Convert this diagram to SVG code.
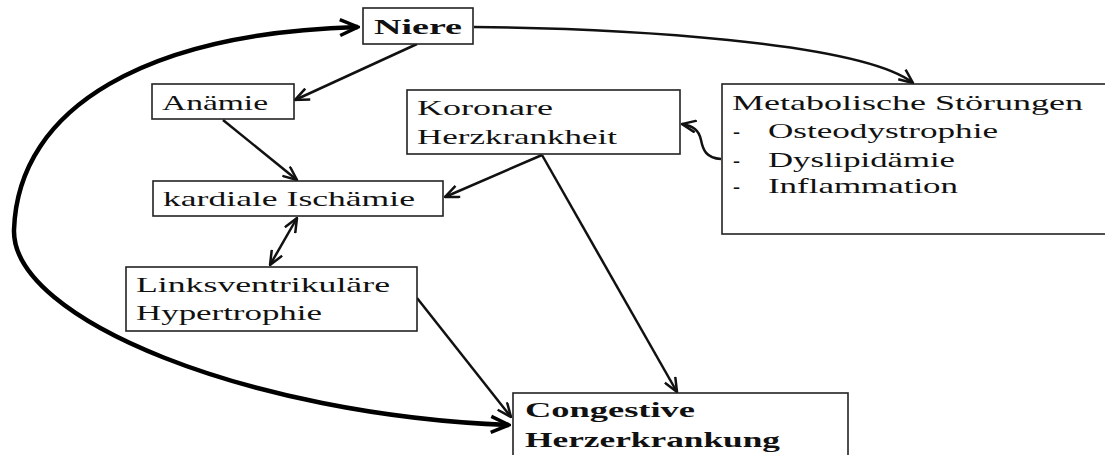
<svg xmlns="http://www.w3.org/2000/svg" width="1105" height="455" viewBox="0 0 1105 455">
<style>
.box{fill:#fff;stroke:#222;stroke-width:1.6}
text{font-family:'Liberation Serif','DejaVu Serif','Times New Roman',serif;fill:#111}
.t{font-size:21px}
.b{font-size:22px;font-weight:bold}
.c{fill:none;stroke:#111;stroke-width:2.5}
.big{fill:none;stroke:#000;stroke-width:4.5}
</style>
<defs>
<marker id="ah" viewBox="0 0 16 14" refX="15" refY="7" markerWidth="16" markerHeight="14" markerUnits="userSpaceOnUse" orient="auto-start-reverse">
<path d="M1,1 L15,7 L1,13" fill="none" stroke="#111" stroke-width="2.5"/>
</marker>
<marker id="bh" viewBox="0 0 22 20" refX="20" refY="10" markerWidth="22" markerHeight="20" markerUnits="userSpaceOnUse" orient="auto-start-reverse">
<path d="M2,2 L20,10 L2,18" fill="none" stroke="#000" stroke-width="3.5"/>
</marker>
</defs>
<g id="connectors">
<path class="big" d="M358,27 C150,33 18,105 14,230 C12,320 250,415 509,425" marker-start="url(#bh)" marker-end="url(#bh)"/>
<path class="c" d="M474,27 C620,28 860,42 913,83" marker-end="url(#ah)"/>
<line class="c" x1="417" y1="44" x2="295" y2="100" marker-end="url(#ah)"/>
<line class="c" x1="223" y1="120" x2="297" y2="180" marker-end="url(#ah)"/>
<line class="c" x1="542" y1="155" x2="445" y2="197" marker-end="url(#ah)"/>
<line class="c" x1="542" y1="155" x2="677" y2="392" marker-end="url(#ah)"/>
<line class="c" x1="297" y1="218" x2="270" y2="265" marker-start="url(#ah)" marker-end="url(#ah)"/>
<line class="c" x1="417" y1="298" x2="511" y2="417" marker-end="url(#ah)"/>
<path class="c" d="M721,159 C706,158 703,150 701,140 C699,130 693,126 682,124" marker-end="url(#ah)"/>
</g>
<g id="niere">
<rect class="box" x="363" y="8" width="110" height="36"/>
<text class="b" x="374" y="34" font-family="Liberation Serif, DejaVu Serif, serif" textLength="88" lengthAdjust="spacingAndGlyphs">Niere</text>
</g>
<g id="anaemie">
<rect class="box" x="152" y="84" width="142" height="35"/>
<text class="t" x="162" y="110" font-family="Liberation Serif, DejaVu Serif, serif" textLength="106" lengthAdjust="spacingAndGlyphs">Anämie</text>
</g>
<g id="koronare">
<rect class="box" x="407" y="90" width="273" height="64"/>
<text class="t" x="417" y="115" font-family="Liberation Serif, DejaVu Serif, serif" textLength="136" lengthAdjust="spacingAndGlyphs">Koronare</text>
<text class="t" x="417" y="144" font-family="Liberation Serif, DejaVu Serif, serif" textLength="200" lengthAdjust="spacingAndGlyphs">Herzkrankheit</text>
</g>
<g id="metabolisch">
<rect class="box" x="722" y="84" width="400" height="150"/>
<text class="t" x="732" y="110" font-family="Liberation Serif, DejaVu Serif, serif" textLength="351" lengthAdjust="spacingAndGlyphs">Metabolische  Störungen</text>
<text class="t" x="733" y="138" font-family="Liberation Serif, DejaVu Serif, serif">-</text>
<text class="t" x="768" y="138" font-family="Liberation Serif, DejaVu Serif, serif" textLength="230" lengthAdjust="spacingAndGlyphs">Osteodystrophie</text>
<text class="t" x="733" y="167" font-family="Liberation Serif, DejaVu Serif, serif">-</text>
<text class="t" x="768" y="167" font-family="Liberation Serif, DejaVu Serif, serif" textLength="187" lengthAdjust="spacingAndGlyphs">Dyslipidämie</text>
<text class="t" x="733" y="193" font-family="Liberation Serif, DejaVu Serif, serif">-</text>
<text class="t" x="768" y="193" font-family="Liberation Serif, DejaVu Serif, serif" textLength="190" lengthAdjust="spacingAndGlyphs">Inflammation</text>
</g>
<g id="kardiale">
<rect class="box" x="153" y="181" width="290" height="35"/>
<text class="t" x="163" y="206" font-family="Liberation Serif, DejaVu Serif, serif" textLength="252" lengthAdjust="spacingAndGlyphs">kardiale  Ischämie</text>
</g>
<g id="linksventrikulaer">
<rect class="box" x="126" y="267" width="291" height="64"/>
<text class="t" x="136" y="292" font-family="Liberation Serif, DejaVu Serif, serif" textLength="254" lengthAdjust="spacingAndGlyphs">Linksventrikuläre</text>
<text class="t" x="136" y="320" font-family="Liberation Serif, DejaVu Serif, serif" textLength="186" lengthAdjust="spacingAndGlyphs">Hypertrophie</text>
</g>
<g id="congestive">
<rect class="box" x="513" y="393" width="335" height="80"/>
<text class="b" x="525" y="417" font-family="Liberation Serif, DejaVu Serif, serif" textLength="170" lengthAdjust="spacingAndGlyphs">Congestive</text>
<text class="b" x="525" y="447" font-family="Liberation Serif, DejaVu Serif, serif" textLength="255" lengthAdjust="spacingAndGlyphs">Herzerkrankung</text>
</g>
</svg>
